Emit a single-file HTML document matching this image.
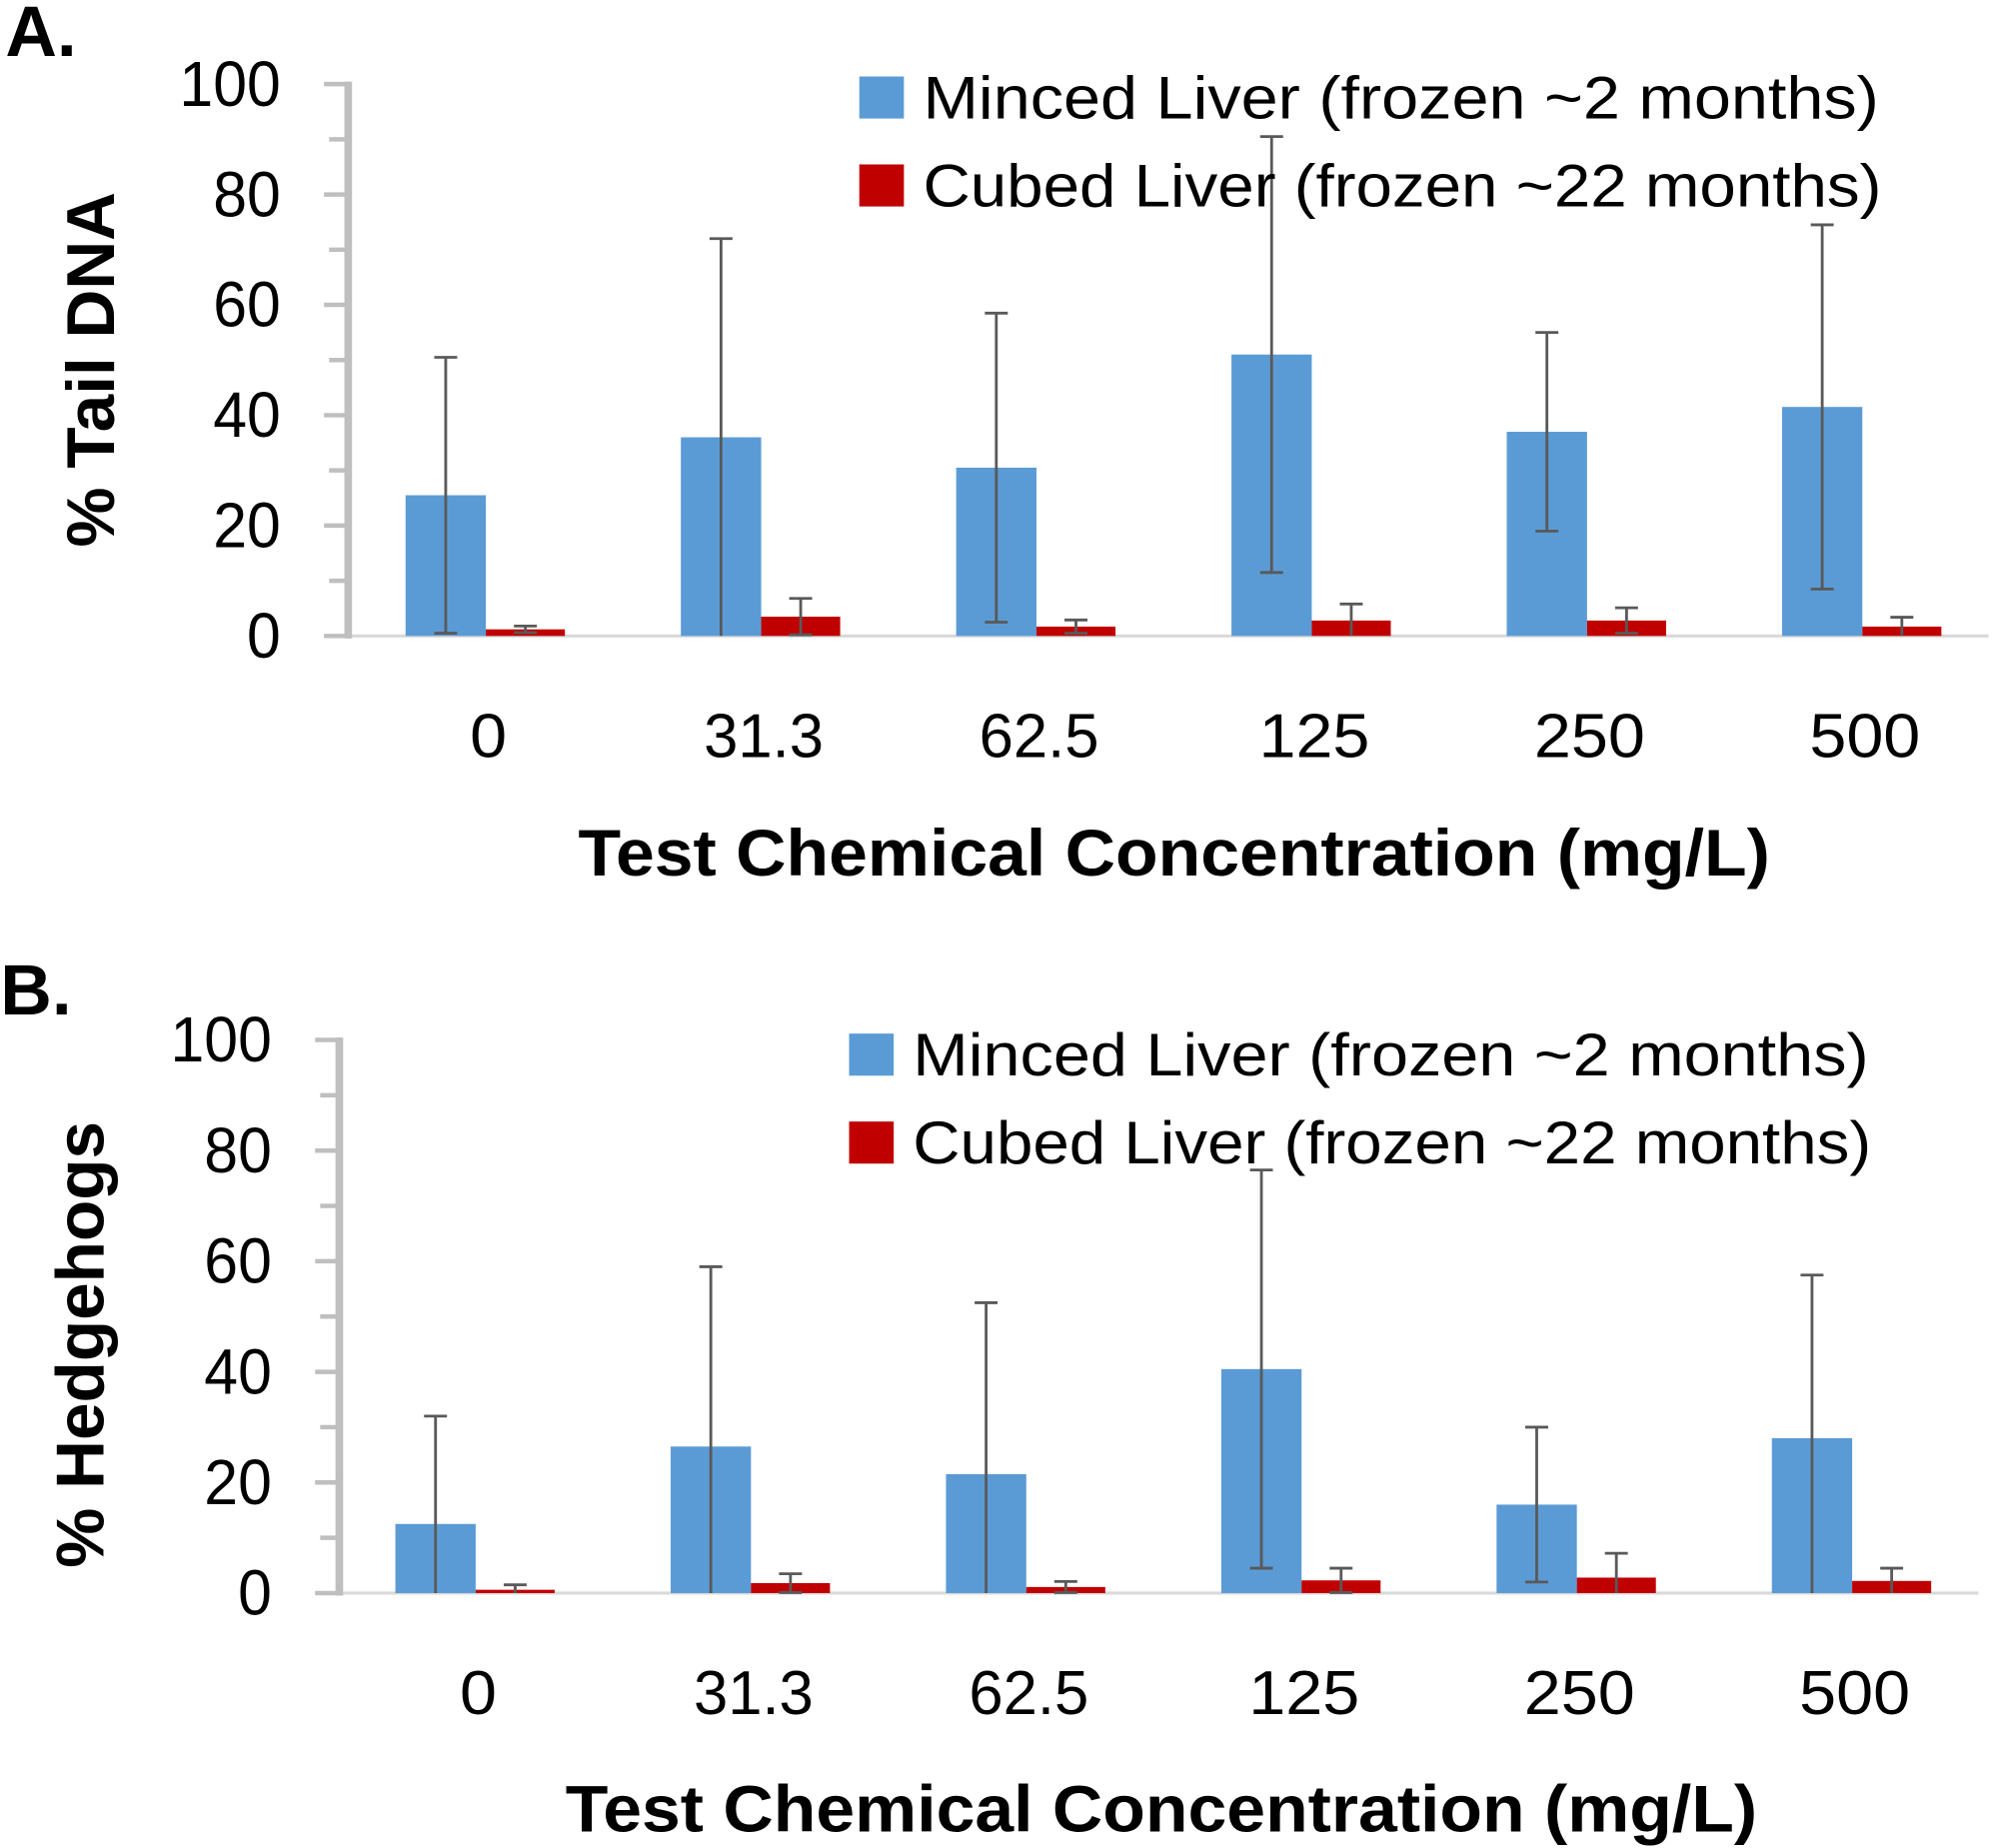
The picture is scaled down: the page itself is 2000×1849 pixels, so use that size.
<!DOCTYPE html>
<html><head><meta charset="utf-8"><style>
html,body{margin:0;padding:0;background:#fff;}
svg{display:block;}
text{font-family:"Liberation Sans",sans-serif;fill:#000;}
</style></head><body>
<svg id="fig" width="2000" height="1849" viewBox="0 0 1568 1450" xmlns="http://www.w3.org/2000/svg"></svg>
<script>
const categories = ["0","31.3","62.5","125","250","500"];
const yTicks = [0,20,40,60,80,100];
const seriesNames = ["Minced Liver (frozen ~2 months)","Cubed Liver (frozen ~22 months)"];
const aMinced = [25.5,36,30.5,51,37,41.5];
const aMincedErr = [25,36,28,39.5,18,33];
const aCubed = [1.2,3.5,1.7,2.8,2.8,1.7];
const aCubedErr = [0.6,3.3,1.2,3,2.3,1.7];
const bMinced = [12.5,26.5,21.5,40.5,16,28];
const bMincedErr = [19.5,32.5,31,36,14,29.5];
const bCubed = [0.6,1.8,1.1,2.3,2.8,2.2];
const bCubedErr = [0.9,1.7,1,2.2,4.4,2.3];

const NS="http://www.w3.org/2000/svg";
const svg=document.getElementById('fig');
function mk(tag,attrs,parent,txt){const e=document.createElementNS(NS,tag);for(const k in attrs)e.setAttribute(k,attrs[k]);if(txt!==undefined)e.textContent=txt;(parent||svg).appendChild(e);return e;}
function numLen(s,d,p){let w=0;for(const ch of s)w+=(ch==='.'?p:d);return w;}

function panel(p){
  const g=mk('g',{});
  
  
  const y=v=>p.y0-(p.y0-p.y100)*v/100;
  const cx=i=>p.c0+216*i;
  const bl=mk('line',{x1:p.ax-12,x2:1560+p.dx,y1:p.y0,y2:p.y0,stroke:'#d9d9d9','stroke-width':2.5},g);
  
  
  const ya=mk('line',{x1:p.ax,x2:p.ax,y1:y(100)-2,y2:p.y0+2,stroke:'#bfbfbf','stroke-width':6},g);
  
  
  for(let v=0;v<=100;v+=10){
    const major=v%20===0;
    const t=mk('line',{x1:p.ax-(major?19:15),x2:p.ax,y1:y(v),y2:y(v),stroke:'#bfbfbf','stroke-width':3.5},g);
    
    
  }
  yTicks.forEach(v=>{
    const s=String(v);
    const t=mk('text',{x:p.ax-53,y:y(v)+17,'font-size':50,'text-anchor':'end',textLength:numLen(s,26.5,8),lengthAdjust:'spacingAndGlyphs'},g,s);
    
    
  });
  const yt=mk('text',{x:0,y:0,'font-size':53,'font-weight':'bold','text-anchor':'middle',transform:`translate(${p.ytx},${p.yty}) rotate(-90)`},g,p.ytitle);
  
  
  categories.forEach((c,i)=>{
    const x=cx(i);
    const b=mk('rect',{x:x-65,y:y(p.m[i]),width:63,height:p.y0-y(p.m[i]),fill:'#5b9bd5'},g);
    
    
    const r=mk('rect',{x:x-2,y:y(p.c[i]),width:62,height:p.y0-y(p.c[i]),fill:'#c00000'},g);
    
    
    [[x-33.5,p.m[i],p.me[i]],[x+29,p.c[i],p.ce[i]]].forEach(([ex,v,e])=>{
      const lo=Math.max(0,v-e),hi=v+e;
      const eg=mk('path',{d:`M${ex},${y(lo)}V${y(hi)}M${ex-9},${y(hi)}H${ex+9}`+(v-e>0?`M${ex-9},${y(lo)}H${ex+9}`:''),stroke:'#595959','stroke-width':2.2,fill:'none'},g);
      
      
    });
    const l=mk('text',{x:x,y:p.xly,'font-size':49,'text-anchor':'middle',textLength:numLen(c,29,7),lengthAdjust:'spacingAndGlyphs'},g,c);
    
    
  });
  const xt=mk('text',{x:p.xtx,y:p.xty,'font-size':52,'font-weight':'bold','text-anchor':'middle',textLength:935,lengthAdjust:'spacingAndGlyphs'},g,'Test Chemical Concentration (mg/L)');
  
  
  const cols=['#5b9bd5','#c00000'];
  seriesNames.forEach((n,k)=>{
    const ly=p.ly+k*69;
    const sw=mk('rect',{x:p.lx,y:ly,width:35,height:33,fill:cols[k]},g);
    
    
    const lt=mk('text',{x:p.lx+50,y:ly+33,'font-size':47,textLength:k?752:750,lengthAdjust:'spacingAndGlyphs'},g,n);
    
    
  });
  const pl=mk('text',{x:p.plx,y:p.ply,'font-size':56,'font-weight':'bold'},g,p.label);
  
  
}
panel({id:'panel-a',label:'A.',plx:4,ply:44,ax:273,y0:499,y100:66,c0:383,dx:0,m:aMinced,me:aMincedErr,c:aCubed,ce:aCubedErr,
  ytitle:'% Tail DNA',ytx:89,yty:290,xly:594,xtx:921,xty:687,lx:674,ly:60});
panel({id:'panel-b',label:'B.',plx:0,ply:796,ax:266,y0:1250,y100:816,c0:375,dx:-8,m:bMinced,me:bMincedErr,c:bCubed,ce:bCubedErr,
  ytitle:'% Hedgehogs',ytx:81,yty:1055,xly:1345,xtx:911,xty:1437,lx:666,ly:811});
</script>
</body></html>
